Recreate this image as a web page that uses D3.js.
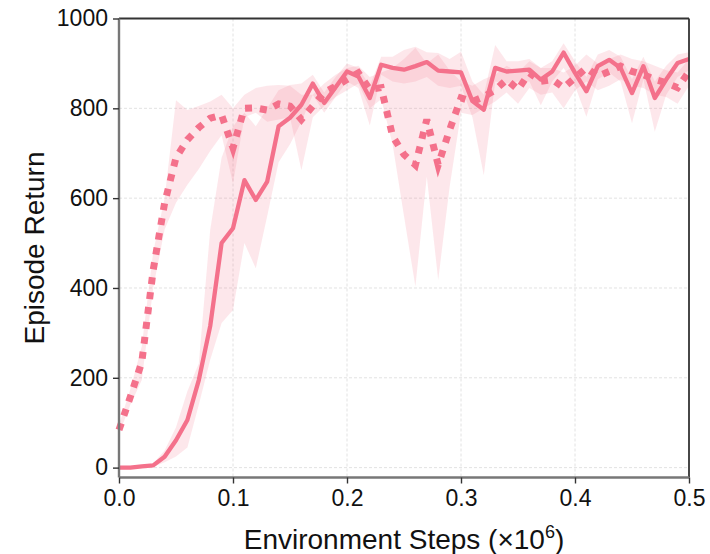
<!DOCTYPE html>
<html><head><meta charset="utf-8">
<script src="https://cdn.jsdelivr.net/npm/d3@7"></script>
<style>body{margin:0;background:#fff}svg{display:block}text{font-family:"Liberation Sans",Arial,sans-serif}</style>
</head><body>
<svg id="chart" width="710" height="554"></svg>
<script>
const steps = d3.range(51).map(i => i / 100);
const solidMean  = [0,0,3,5,24,61,106,195,315,500,533,640,596,637,760,779,808,855,812,847,882,871,823,897,890,886,894,903,884,882,880,816,797,890,882,884,886,864,882,924,879,838,894,908,890,834,894,823,864,901,910];
const solidLow   = [0,0,0,2,12,25,45,140,240,322,351,500,444,560,680,720,770,830,790,825,860,845,762,875,860,855,860,870,850,845,850,780,651,860,855,860,860,807,860,890,850,781,865,880,860,767,865,748,830,870,885];
const solidHigh  = [4,4,6,9,38,90,170,232,529,690,760,790,760,800,840,852,855,875,835,870,900,890,850,915,915,930,937,925,923,910,926,860,830,941,905,905,910,890,905,945,905,870,920,930,915,865,915,860,895,920,925];
const dotMean    = [84,158,235,440,589,690,730,757,778,785,712,800,801,796,810,805,775,805,835,849,864,879,842,846,738,697,674,775,674,752,823,815,826,841,864,842,879,860,864,846,868,890,871,882,894,882,875,864,857,846,882];
const dotLow     = [75,140,195,400,530,590,630,665,705,740,633,780,790,770,775,780,662,780,805,825,840,855,800,820,720,560,403,648,418,625,790,785,800,815,835,810,845,830,835,800,840,860,840,850,865,850,845,830,825,810,850];
const dotHigh    = [95,175,270,480,600,818,796,805,815,830,800,830,845,850,852,850,830,830,855,875,890,895,870,880,890,910,935,900,920,885,860,850,865,875,895,880,905,890,890,880,895,920,900,910,920,910,905,895,885,880,910];
const xTicks = [0, 0.1, 0.2, 0.3, 0.4, 0.5];
const yTicks = [0, 200, 400, 600, 800, 1000];

const color = "#f4718b";
const svg = d3.select("#chart");
const L = 119, R = 689, T = 18.5, B = 477.5;
const x = d3.scaleLinear().domain([0, 0.5]).range([L, R]);
const y = d3.scaleLinear().domain([-22, 1000]).range([B, T]);

// grid
const g = svg.append("g");
g.selectAll(".gx").data([0.1,0.2,0.3,0.4]).join("line")
  .attr("x1", d => x(d)).attr("x2", d => x(d)).attr("y1", T).attr("y2", B)
  .attr("stroke", "#e2e2e2").attr("stroke-width", 1).attr("stroke-dasharray", "3,2");
g.selectAll(".gy").data([0,200,400,600,800]).join("line")
  .attr("x1", L).attr("x2", R).attr("y1", d => y(d)).attr("y2", d => y(d))
  .attr("stroke", "#e2e2e2").attr("stroke-width", 1).attr("stroke-dasharray", "3,2");

const rowsS = steps.map((s, i) => ({x: s, m: solidMean[i], lo: solidLow[i], hi: solidHigh[i]}));
const rowsD = steps.map((s, i) => ({x: s, m: dotMean[i], lo: dotLow[i], hi: dotHigh[i]}));
const area = d3.area().x(d => x(d.x)).y0(d => y(d.lo)).y1(d => y(d.hi));
const line = d3.line().x(d => x(d.x)).y(d => y(d.m));

const plot = svg.append("g");
plot.append("path").datum(rowsD).attr("d", area).attr("fill", color).attr("fill-opacity", 0.17);
plot.append("path").datum(rowsS).attr("d", area).attr("fill", color).attr("fill-opacity", 0.17);
plot.append("path").datum(rowsD).attr("d", line).attr("fill", "none").attr("stroke", color)
  .attr("stroke-width", 7).attr("stroke-dasharray", "7,8");
plot.append("path").datum(rowsS).attr("d", line).attr("fill", "none").attr("stroke", color)
  .attr("stroke-width", 4.3).attr("stroke-linejoin", "round");

// spines
svg.append("line").attr("x1", L).attr("x2", R).attr("y1", T).attr("y2", T).attr("stroke", "#333").attr("stroke-width", 1.8);
svg.append("line").attr("x1", R).attr("x2", R).attr("y1", T).attr("y2", B).attr("stroke", "#333").attr("stroke-width", 1.8);

const xa = svg.append("g").attr("transform", `translate(0,${B})`)
  .call(d3.axisBottom(x).tickValues(xTicks).tickFormat(d3.format(".1f")).tickSize(6).tickPadding(6));
const ya = svg.append("g").attr("transform", `translate(${L},0)`)
  .call(d3.axisLeft(y).tickValues(yTicks).tickFormat(d3.format("d")).tickSize(6).tickPadding(5));
[xa, ya].forEach(a => {
  a.select(".domain").attr("stroke", "#777").attr("stroke-width", 2.4);
  a.selectAll(".tick line").attr("stroke", "#333").attr("stroke-width", 1.4);
  a.selectAll(".tick text").attr("font-size", 23).attr("fill", "#111")
    .attr("font-family", '"Liberation Sans", Arial, sans-serif');
});
ya.select(".domain").attr("d", `M0,${B}V${T}`);
xa.select(".domain").attr("d", `M${L},0H${R}`);

// titles
const xt = svg.append("text").attr("x", (L + R) / 2).attr("y", 549).attr("text-anchor", "middle")
  .attr("font-size", 28).attr("fill", "#111");
xt.append("tspan").text("Environment Steps (×10");
xt.append("tspan").text("6").attr("font-size", 18).attr("dy", -11);
xt.append("tspan").text(")").attr("dy", 11);

svg.append("text").attr("transform", `translate(44,${(T + B) / 2}) rotate(-90)`)
  .attr("text-anchor", "middle").attr("font-size", 28).attr("fill", "#111").text("Episode Return");
</script>
</body></html>
